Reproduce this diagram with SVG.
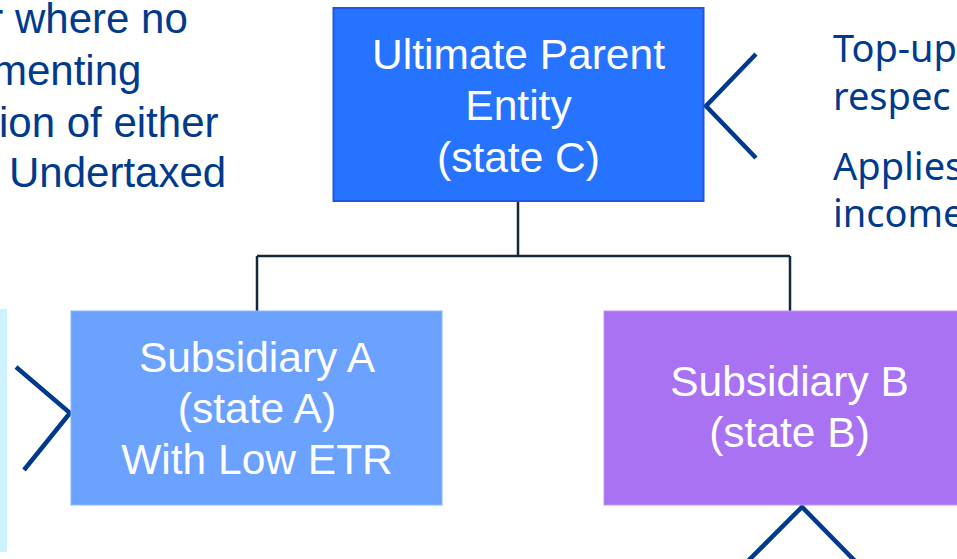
<svg xmlns="http://www.w3.org/2000/svg" width="957" height="559" viewBox="0 0 957 559">
<style>
.box{font-family:"Liberation Sans",Arial,sans-serif;font-size:42.5px;fill:#ffffff;text-anchor:middle}
.side{font-family:"Liberation Sans",Arial,sans-serif;font-size:42px;fill:#003A8C}
.rside{font-family:"Noto Sans","Open Sans",sans-serif;font-size:38px;fill:#003A8C}
.chev{fill:none;stroke:#003A8C;stroke-width:4.5;stroke-linejoin:miter}
.conn{fill:none;stroke:#14283C;stroke-width:2.5}
</style>
<rect width="957" height="559" fill="#ffffff"/>
<rect x="0" y="309" width="7" height="243" fill="#CCF2FF"/>
<g id="left-text">
<text class="side" x="-10.7" y="33">r where no</text>
<text class="side" x="-8" y="85">menting</text>
<text class="side" x="-1" y="137">ion of either</text>
<text class="side" x="9" y="187">Undertaxed</text>
</g>
<g id="right-text">
<text class="rside" x="833" y="62">Top-up</text>
<text class="rside" x="833" y="110">respec</text>
<text class="rside" x="833" y="180">Applies</text>
<text class="rside" x="833" y="227">income</text>
</g>
<g id="connectors">
<path class="conn" d="M518 201 V256 M257 256 H790 M257 256 V311 M790 256 V311"/>
</g>
<g id="chevrons">
<polyline class="chev" points="756,54 706,106 756,158"/>
<polyline class="chev" points="16,367 70,413 24,470"/>
<polyline class="chev" points="748,561 802,507 855,561"/>
</g>
<g id="upe">
<rect x="333.5" y="8" width="370" height="193" fill="#2673FF" stroke="#1F55E0" stroke-width="2"/>
<text class="box" x="518.5" y="68.5">Ultimate Parent</text>
<text class="box" x="518.5" y="120">Entity</text>
<text class="box" x="518.5" y="171.5">(state C)</text>
</g>
<g id="subA">
<rect x="71" y="311" width="371" height="194" fill="#6BA2FF" stroke="#8AB6FF" stroke-width="1"/>
<text class="box" x="257" y="372">Subsidiary A</text>
<text class="box" x="257" y="423">(state A)</text>
<text class="box" x="257" y="474">With Low ETR</text>
</g>
<g id="subB">
<rect x="604" y="311" width="371" height="194" fill="#A972F3" stroke="#BF94F6" stroke-width="1"/>
<text class="box" x="789.5" y="396">Subsidiary B</text>
<text class="box" x="789.5" y="446.5">(state B)</text>
</g>
</svg>
